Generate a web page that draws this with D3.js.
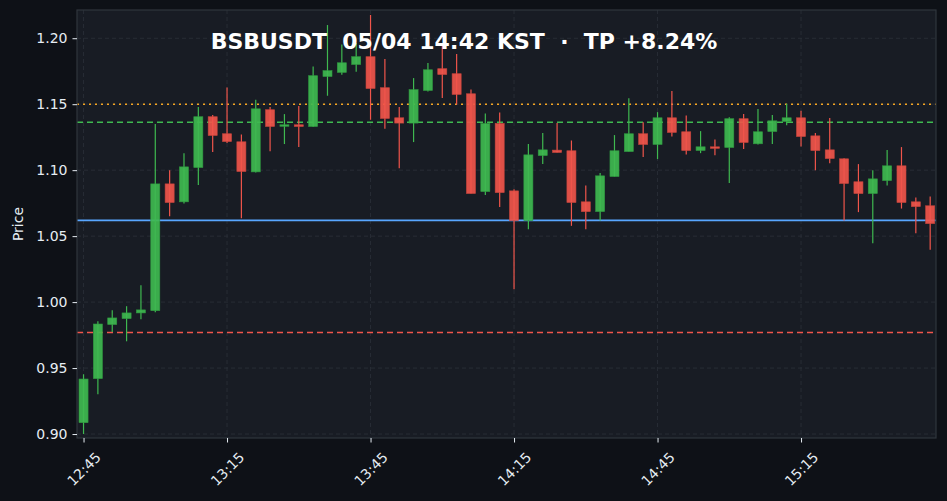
<!DOCTYPE html>
<html>
<head>
<meta charset="utf-8">
<script src="https://cdn.jsdelivr.net/npm/d3@7"></script>
<style>
  html, body { margin: 0; padding: 0; background: #0e1117; }
  svg { display: block; }
  text { font-family: "DejaVu Sans", sans-serif; }
</style>
</head>
<body>
<div id="chart"></div>
<script>
// 3-minute candles
const times = ["12:45","12:48","12:51","12:54","12:57","13:00","13:03","13:06","13:09","13:12",
  "13:15","13:18","13:21","13:24","13:27","13:30","13:33","13:36","13:39","13:42",
  "13:45","13:48","13:51","13:54","13:57","14:00","14:03","14:06","14:09","14:12",
  "14:15","14:18","14:21","14:24","14:27","14:30","14:33","14:36","14:39","14:42",
  "14:45","14:48","14:51","14:54","14:57","15:00","15:03","15:06","15:09","15:12",
  "15:15","15:18","15:21","15:24","15:27","15:30","15:33","15:36","15:39","15:42"];

const opens = [0.9086,0.942,0.983,0.9875,0.9918,0.9935,1.0896,1.076,1.102,1.1405,
  1.1276,1.1215,1.0987,1.1458,1.1339,1.1344,1.1331,1.171,1.1741,1.1801,
  1.186,1.1625,1.1397,1.1357,1.1604,1.1769,1.1731,1.1579,1.0838,1.1354,
  1.0843,1.0618,1.1111,1.1152,1.1147,1.076,1.0686,1.0952,1.1141,1.1276,
  1.1195,1.1397,1.1291,1.1149,1.1177,1.1172,1.139,1.12,1.1293,1.1369,
  1.1397,1.126,1.1154,1.1086,1.0912,1.0823,1.0921,1.1033,1.076,1.073];

const highs = [0.9453,0.9855,0.9938,0.9969,1.0128,1.1349,1.1,1.1129,1.1478,1.1418,
  1.1627,1.127,1.1534,1.1478,1.1425,1.1486,1.1786,1.21,1.1953,1.1964,
  1.2176,1.1842,1.1478,1.1698,1.1812,1.1953,1.188,1.1612,1.143,1.1437,
  1.0856,1.1198,1.1281,1.1357,1.1225,1.0883,1.0978,1.1266,1.1546,1.1364,
  1.144,1.16,1.1415,1.1296,1.1232,1.1402,1.1425,1.1463,1.1418,1.1503,
  1.145,1.1281,1.1395,1.1091,1.1046,1.1,1.1152,1.1175,1.0792,1.08];

const lows = [0.9,0.9301,0.9774,0.9703,0.987,0.9923,1.0651,1.0747,1.0887,1.1137,
  1.1205,1.0636,1.0982,1.1144,1.1198,1.1176,1.1327,1.1564,1.1723,1.1746,
  1.1382,1.1314,1.1015,1.1213,1.1597,1.1547,1.1498,1.0823,1.0811,1.072,
  1.0098,1.0553,1.1046,1.1134,1.0578,1.0553,1.0618,1.0952,1.1141,1.1099,
  1.1084,1.1255,1.1119,1.1129,1.1114,1.0902,1.116,1.1195,1.1198,1.1341,
  1.1179,1.1,1.1053,1.0618,1.0682,1.0447,1.0883,1.0709,1.0522,1.0396];

const closes = [0.9417,0.9834,0.988,0.9918,0.9941,1.0896,1.0755,1.1025,1.1405,1.1263,
  1.1217,1.099,1.1465,1.1331,1.1344,1.1331,1.1716,1.1754,1.1814,1.186,
  1.1619,1.1392,1.1357,1.161,1.1761,1.1725,1.1574,1.0823,1.1354,1.083,
  1.0618,1.1116,1.1154,1.1134,1.0755,1.0686,1.0957,1.1147,1.1276,1.1195,
  1.1397,1.1286,1.1149,1.1177,1.117,1.139,1.121,1.1291,1.1374,1.1397,
  1.1255,1.1149,1.1088,1.0899,1.0823,1.0934,1.1033,1.0755,1.0724,1.0595];

// horizontal levels: take profit, green dashed, blue solid, red dashed
const levels = [1.15, 1.1363, 1.062, 0.977];

const xTickLabels = ["12:45", "13:15", "13:45", "14:15", "14:45", "15:15"];
const yTicks = [0.90, 0.95, 1.00, 1.05, 1.10, 1.15, 1.20];

const title = "BSBUSDT  05/04 14:42 KST  \u00b7  TP +8.24%";

const width = 947, height = 501;
const margin = { top: 10, right: 11, bottom: 63, left: 77 };
const innerW = width - margin.left - margin.right;
const innerH = height - margin.top - margin.bottom;

const parseTime = d3.timeParse("%H:%M");
const candles = times.map((t, i) => ({
  t: parseTime(t),
  open: opens[i], high: highs[i], low: lows[i], close: closes[i]
}));

const up = '#3fb950', down = '#f0554b';

// x domain pads about half a candle on each side
const x = d3.scaleTime()
  .domain([d3.timeSecond.offset(candles[0].t, -82), d3.timeSecond.offset(candles[candles.length - 1].t, 73)])
  .range([0, innerW]);

const y = d3.scaleLinear()
  .domain([0.897, 1.2214])
  .range([innerH, 0]);

const step = x(candles[1].t) - x(candles[0].t);
const bodyW = step * 0.63;

const svg = d3.select('#chart')
  .append('svg')
  .attr('width', width)
  .attr('height', height);

svg.append('rect')
  .attr('width', width).attr('height', height)
  .attr('fill', '#0e1117');

const g = svg.append('g')
  .attr('transform', 'translate(' + margin.left + ',' + margin.top + ')');

g.append('rect')
  .attr('width', innerW).attr('height', innerH)
  .attr('fill', '#181c24');

// grid
const xTickDates = xTickLabels.map(parseTime);
g.append('g')
  .selectAll('line')
  .data(yTicks)
  .enter().append('line')
  .attr('x1', 0).attr('x2', innerW)
  .attr('y1', d => y(d)).attr('y2', d => y(d))
  .attr('stroke', '#2c313a').attr('stroke-width', 0.8)
  .attr('stroke-dasharray', '4,3');

g.append('g')
  .selectAll('line')
  .data(xTickDates)
  .enter().append('line')
  .attr('x1', d => x(d)).attr('x2', d => x(d))
  .attr('y1', 0).attr('y2', innerH)
  .attr('stroke', '#2c313a').attr('stroke-width', 0.8)
  .attr('stroke-dasharray', '4,3');

// horizontal level lines
const levelStyle = [
  { color: '#f5a623', dash: '2,4', w: 1.6 },
  { color: '#3fb950', dash: '6,4', w: 1.6 },
  { color: '#58a6ff', dash: null, w: 1.8 },
  { color: '#f0554b', dash: '6,4', w: 1.6 }
];
g.append('g')
  .selectAll('line')
  .data(levels)
  .enter().append('line')
  .attr('x1', 0).attr('x2', innerW)
  .attr('y1', d => y(d)).attr('y2', d => y(d))
  .attr('stroke', (d, i) => levelStyle[i].color)
  .attr('stroke-width', (d, i) => levelStyle[i].w)
  .attr('stroke-dasharray', (d, i) => levelStyle[i].dash);

// candles
const c = g.append('g')
  .selectAll('g')
  .data(candles)
  .enter().append('g');

c.append('line')
  .attr('x1', d => x(d.t)).attr('x2', d => x(d.t))
  .attr('y1', d => y(d.high)).attr('y2', d => y(d.low))
  .attr('stroke', d => d.close >= d.open ? up : down)
  .attr('stroke-width', 1.2);

c.append('rect')
  .attr('x', d => x(d.t) - bodyW / 2)
  .attr('width', bodyW)
  .attr('y', d => y(Math.max(d.open, d.close)))
  .attr('height', d => Math.max(1.5, Math.abs(y(d.open) - y(d.close))))
  .attr('fill', d => d.close >= d.open ? up : down)
  .attr('fill-opacity', 0.92)
  .attr('stroke', d => d.close >= d.open ? '#2f9a40' : '#c8453d')
  .attr('stroke-width', 0.6);

// frame
g.append('rect')
  .attr('width', innerW).attr('height', innerH)
  .attr('fill', 'none')
  .attr('stroke', '#30363d').attr('stroke-width', 1.2);

// axes
const yAxis = g.append('g')
  .call(d3.axisLeft(y).tickValues(yTicks).tickFormat(d3.format('.2f')).tickSize(4.5).tickPadding(5));
yAxis.select('.domain').remove();
yAxis.selectAll('line').attr('stroke', '#e6edf3');
yAxis.selectAll('text')
  .attr('fill', '#e6edf3')
  .style('font-size', '14px');

const xAxis = g.append('g')
  .attr('transform', 'translate(0,' + innerH + ')')
  .call(d3.axisBottom(x).tickValues(xTickDates).tickFormat(d3.timeFormat('%H:%M')).tickSize(4.5));
xAxis.select('.domain').remove();
xAxis.selectAll('line').attr('stroke', '#e6edf3');
xAxis.selectAll('text')
  .attr('fill', '#e6edf3')
  .style('font-size', '14px')
  .attr('y', 0).attr('dy', 0)
  .attr('text-anchor', 'middle')
  .attr('dominant-baseline', 'central')
  .attr('transform', 'translate(0,31) rotate(-45)');

// axis title
svg.append('text')
  .attr('transform', 'translate(23,' + (margin.top + innerH / 2) + ') rotate(-90)')
  .attr('text-anchor', 'middle')
  .attr('fill', '#e6edf3')
  .style('font-size', '14px')
  .text('Price');

// title
svg.append('text')
  .attr('x', 464).attr('y', 49)
  .attr('text-anchor', 'middle')
  .attr('fill', '#ffffff')
  .style('font-size', '22px')
  .style('font-weight', 'bold')
  .style('white-space', 'pre')
  .text(title);
</script>
</body>
</html>
